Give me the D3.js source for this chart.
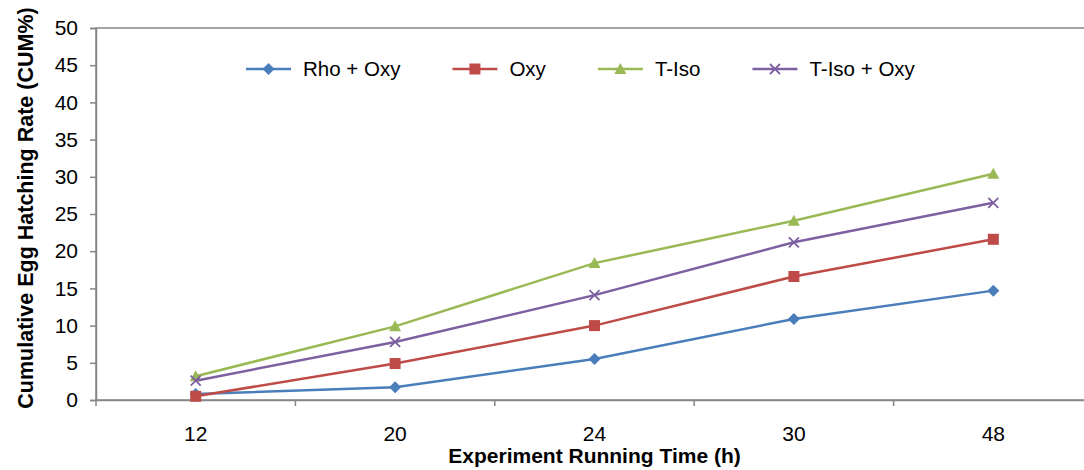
<!doctype html>
<html>
<head>
<meta charset="utf-8"/>
<title>Egg hatching</title>
<script src="https://d3js.org/d3.v7.min.js"></script>
<style>
body { margin: 0; background: #fff; }
text { font-family: "Liberation Sans", Arial, sans-serif; fill: #000; }
</style>
</head>
<body>
<svg id="chart"></svg>
<script>
// data
const hours = ['12', '20', '24', '30', '48']
const seriesNames = ['Rho + Oxy', 'Oxy', 'T-Iso', 'T-Iso + Oxy']
const rhoOxy = [0.8, 1.7, 5.5, 10.9, 14.7]
const oxy = [0.5, 4.9, 10.0, 16.6, 21.6]
const tIso = [3.2, 9.9, 18.4, 24.1, 30.4]
const tIsoOxy = [2.6, 7.8, 14.1, 21.2, 26.5]
const yTicks = [0, 5, 10, 15, 20, 25, 30, 35, 40, 45, 50]

const colors = ['#4a7ebb', '#be4b48', '#98b954', '#7d60a0']
const shapes = ['diamond', 'square', 'triangle', 'cross']

const width = 1084
const height = 470
const plotLeft = 96, plotRight = 1093, plotTop = 28, plotBottom = 400
const axisColor = '#868686'

const svg = d3.select('#chart')
    .attr('width', width)
    .attr('height', height)

const x = d3.scaleBand().domain(hours).range([plotLeft, plotRight])
const y = d3.scaleLinear().domain([0, 50]).range([plotBottom, plotTop])

// plot frame (only top is visible, right edge is off the page)
svg.append('rect')
    .attr('x', plotLeft).attr('y', plotTop)
    .attr('width', plotRight - plotLeft).attr('height', plotBottom - plotTop)
    .attr('fill', 'none')
    .attr('stroke', axisColor)
    .attr('stroke-width', 1.5)

// y axis
const yAxis = svg.append('g')
    .attr('transform', `translate(${plotLeft},0)`)
    .call(d3.axisLeft(y).tickValues(yTicks).tickSize(6).tickPadding(12))
yAxis.select('.domain').attr('stroke', axisColor).attr('stroke-width', 1.5)
yAxis.selectAll('.tick line').attr('stroke', axisColor).attr('stroke-width', 1.5)
yAxis.selectAll('.tick text')
    .style('font-size', '21px')
    .style('font-family', '"Liberation Sans", Arial, sans-serif')
    .attr('fill', '#000')

// x axis: labels at band centres, ticks between categories
const xAxis = svg.append('g')
    .attr('transform', `translate(0,${plotBottom})`)
    .call(d3.axisBottom(x).tickSize(0).tickPadding(26))
xAxis.select('.domain').attr('stroke', axisColor).attr('stroke-width', 1.5)
xAxis.selectAll('.tick text')
    .style('font-size', '21px')
    .style('font-family', '"Liberation Sans", Arial, sans-serif')
    .attr('fill', '#000')
xAxis.selectAll('.boundary')
    .data(d3.range(hours.length + 1))
    .join('line')
    .attr('x1', i => plotLeft + i * x.step())
    .attr('x2', i => plotLeft + i * x.step())
    .attr('y1', 0).attr('y2', 6)
    .attr('stroke', axisColor)
    .attr('stroke-width', 1.5)

function markerPath(shape) {
    switch(shape) {
        case 'diamond': return 'M0,-6L6,0L0,6L-6,0Z'
        case 'square': return 'M-5.5,-5.5H5.5V5.5H-5.5Z'
        case 'triangle': return 'M0,-6L6,5H-6Z'
        case 'cross': return 'M-5,-5L5,5M-5,5L5,-5'
    }
}

function drawMarker(g, shape, color, cx, cy) {
    const p = g.append('path')
        .attr('d', markerPath(shape))
        .attr('transform', `translate(${cx},${cy})`)
    if (shape == 'cross') {
        p.attr('fill', 'none').attr('stroke', color).attr('stroke-width', 1.8)
    } else {
        p.attr('fill', color)
    }
}

const allSeries = [rhoOxy, oxy, tIso, tIsoOxy]
const line = d3.line()
    .x((d, i) => x(hours[i]) + x.bandwidth() / 2)
    .y(d => y(d))

allSeries.forEach((vals, s) => {
    const g = svg.append('g')
    g.append('path')
        .datum(vals)
        .attr('d', line)
        .attr('fill', 'none')
        .attr('stroke', colors[s])
        .attr('stroke-width', 2.5)
    vals.forEach((v, i) => {
        drawMarker(g, shapes[s], colors[s], x(hours[i]) + x.bandwidth() / 2, y(v))
    })
})

// legend
let lx = 246
const ly = 69
seriesNames.forEach((name, s) => {
    const g = svg.append('g')
    g.append('line')
        .attr('x1', lx).attr('x2', lx + 45)
        .attr('y1', ly).attr('y2', ly)
        .attr('stroke', colors[s])
        .attr('stroke-width', 2.5)
    drawMarker(g, shapes[s], colors[s], lx + 22.5, ly)
    const t = g.append('text')
        .attr('x', lx + 57).attr('y', ly)
        .attr('dy', '0.35em')
        .style('font-size', '20.5px')
        .text(name)
    lx += 57 + t.node().getComputedTextLength() + 52
})

// axis titles
svg.append('text')
    .attr('transform', `translate(33,${(plotTop + plotBottom) / 2 - 6}) rotate(-90)`)
    .attr('text-anchor', 'middle')
    .style('font-size', '21.5px')
    .style('font-weight', 'bold')
    .text('Cumulative Egg Hatching Rate (CUM%)')

svg.append('text')
    .attr('x', (plotLeft + plotRight) / 2)
    .attr('y', 463)
    .attr('text-anchor', 'middle')
    .style('font-size', '21px')
    .style('font-weight', 'bold')
    .text('Experiment Running Time (h)')
</script>
</body>
</html>
